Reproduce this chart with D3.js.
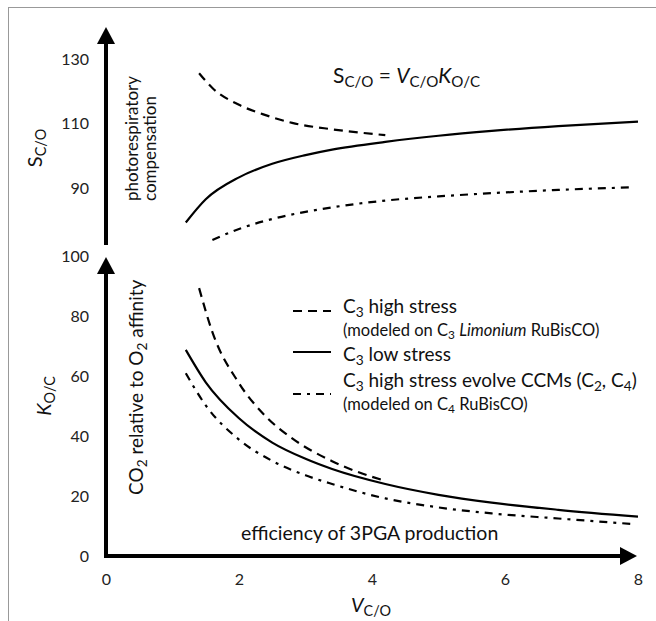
<!DOCTYPE html>
<meta charset="utf-8">
<style>
body { margin: 0; background: #fff; }
text {
  font-family: Lato, "Open Sans", sans-serif;
  fill: #111;
}
.tick text { font-size: 16px; fill: #222; }
</style>
<body>
<script src="https://cdn.jsdelivr.net/npm/d3@7"></script>
<script>
// values
var xTicks = [0, 2, 4, 6, 8];
var sTicks = [90, 110, 130];
var kTicks = [0, 20, 40, 60, 80, 100];

// C3 high stress (dashed)
var vHigh = [1.4, 1.6, 2.0, 2.4, 2.8, 3.4, 4.2];
var sHigh = [125.6, 121.0, 115.8, 112.6, 110.2, 108.2, 106.4];
var kHigh = [89.3, 74.6, 57.6, 46.6, 39.2, 31.6, 25.0];

// C3 low stress (solid)
var vLow = [1.2, 1.5, 2.0, 2.5, 3.0, 3.4, 4.2, 5.0, 5.8, 6.8, 8.0];
var sLow = [79.3, 86.5, 93.3, 97.5, 100.2, 101.9, 104.3, 106.2, 107.7, 109.2, 110.6];
var kLow = [68.7, 57.9, 45.9, 37.8, 32.4, 29.0, 24.0, 20.4, 17.8, 15.4, 13.1];

// C3 high stress evolve CCMs (dash-dot)
var vCcmS = [1.6, 2.0, 2.5, 3.0, 3.4, 4.2, 5.0, 5.8, 6.8, 7.9];
var sCcm = [73.9, 77.3, 80.4, 82.6, 84.0, 86.1, 87.4, 88.4, 89.4, 90.2];
var vCcmK = [1.2, 1.5, 2.0, 2.5, 3.0, 3.4, 4.2, 5.0, 5.8, 6.8, 7.9];
var kCcm = [60.9, 50.2, 38.8, 31.7, 26.9, 24.0, 19.2, 16.2, 14.2, 12.5, 10.7];

var width = 656, height = 621;

var svg = d3.select("body").append("svg")
    .attr("width", width)
    .attr("height", height);

// light frame round the figure
svg.append("rect")
    .attr("x", 8.5).attr("y", 7.5)
    .attr("width", 700).attr("height", 700)
    .attr("fill", "none")
    .attr("stroke", "#999")
    .attr("stroke-width", 1);

var x = d3.scaleLinear().domain([0, 8]).range([106, 638]);
var yS = d3.scaleLinear().domain([90, 130]).range([188, 59]);
var yK = d3.scaleLinear().domain([0, 100]).range([556, 256]);

var dashed = "9,6";
var dashDot = "8,6,3,6";

// ticks only, the axis lines are the thick arrows below
function cleanAxis(g) {
  g.select(".domain").remove();
  g.selectAll(".tick line").remove();
  g.selectAll("text").attr("font-family", null);
}

svg.append("g")
    .attr("transform", "translate(106,0)")
    .call(d3.axisLeft(yS).tickValues(sTicks).tickSize(0).tickPadding(17))
    .call(cleanAxis);

svg.append("g")
    .attr("transform", "translate(106,0)")
    .call(d3.axisLeft(yK).tickValues(kTicks).tickSize(0).tickPadding(17))
    .call(cleanAxis);

svg.append("g")
    .attr("transform", "translate(0,556)")
    .call(d3.axisBottom(x).tickValues(xTicks).tickSize(0).tickPadding(18))
    .call(cleanAxis);

// arrows
function arrow(x1, y1, x2, y2) {
  var ang = Math.atan2(y2 - y1, x2 - x1);
  var len = 17, half = 9;
  var bx = x2 - len * Math.cos(ang), by = y2 - len * Math.sin(ang);
  svg.append("line")
      .attr("x1", x1).attr("y1", y1)
      .attr("x2", bx).attr("y2", by)
      .attr("stroke", "#000")
      .attr("stroke-width", 4);
  svg.append("path")
      .attr("d", "M" + x2 + "," + y2 +
        "L" + (bx + half * Math.sin(ang)) + "," + (by - half * Math.cos(ang)) +
        "L" + (bx - half * Math.sin(ang)) + "," + (by + half * Math.cos(ang)) + "Z")
      .attr("fill", "#000");
}
arrow(x(0), 245, x(0), 27);
arrow(x(0), yK(0) + 2, x(0), 257);
arrow(x(0) - 2, yK(0), 637, yK(0));

// curves
function curve(vs, vals, y, dash) {
  var pts = vs.map(function(v, i) { return [v, vals[i]]; });
  var line = d3.line()
      .curve(d3.curveMonotoneX)
      .x(function(d) { return x(d[0]); })
      .y(function(d) { return y(d[1]); });
  svg.append("path")
      .datum(pts)
      .attr("d", line)
      .attr("fill", "none")
      .attr("stroke", "#000")
      .attr("stroke-width", 2.2)
      .attr("stroke-dasharray", dash);
}
curve(vHigh, sHigh, yS, dashed);
curve(vLow, sLow, yS, null);
curve(vCcmS, sCcm, yS, dashDot);
curve(vHigh, kHigh, yK, dashed);
curve(vLow, kLow, yK, null);
curve(vCcmK, kCcm, yK, dashDot);

// text with subscripts: parts = [[text, sub?, italic?], ...]
function rich(g, parts, size) {
  var t = g.append("text").attr("font-size", size);
  var down = false;
  parts.forEach(function(p) {
    var s = t.append("tspan").text(p[0]);
    if (p[1]) {
      s.attr("font-size", size * 0.72).attr("dy", down ? 0 : size * 0.2);
      down = true;
    } else if (down) {
      s.attr("dy", -size * 0.2);
      down = false;
    }
    if (p[2]) s.attr("font-style", "italic");
  });
  return t;
}

// equation
rich(svg.append("g").attr("transform", "translate(333,83)"),
    [["S"], ["C/O", 1], [" = "], ["V", 0, 1], ["C/O", 1], ["K", 0, 1], ["O/C", 1]], 21);

// axis titles
rich(svg.append("g").attr("transform", "translate(42,148) rotate(-90)"),
    [["S"], ["C/O", 1]], 20).attr("text-anchor", "middle");
rich(svg.append("g").attr("transform", "translate(51,396) rotate(-90)"),
    [["K", 0, 1], ["O/C", 1]], 20).attr("text-anchor", "middle");
rich(svg.append("g").attr("transform", "translate(371,612)"),
    [["V", 0, 1], ["C/O", 1]], 20).attr("text-anchor", "middle");

// descriptive labels along the arrows
svg.append("text")
    .attr("transform", "translate(138,201) rotate(-90)")
    .attr("font-size", 17)
    .text("photorespiratory");
svg.append("text")
    .attr("transform", "translate(156,201) rotate(-90)")
    .attr("font-size", 17)
    .text("compensation");
rich(svg.append("g").attr("transform", "translate(143,495) rotate(-90)"),
    [["CO"], ["2", 1], [" relative to O"], ["2", 1], [" affinity"]], 19);
svg.append("text")
    .attr("x", 241).attr("y", 540)
    .attr("font-size", 19.5)
    .text("efficiency of 3PGA production");

// legend
var legend = svg.append("g");
[[311, dashed], [352, null], [394, dashDot]].forEach(function(r) {
  legend.append("line")
      .attr("x1", 293).attr("x2", 331)
      .attr("y1", r[0]).attr("y2", r[0])
      .attr("stroke", "#000")
      .attr("stroke-width", 2.2)
      .attr("stroke-dasharray", r[1]);
});
rich(legend.append("g").attr("transform", "translate(343,313)"),
    [["C"], ["3", 1], [" high stress"]], 19);
rich(legend.append("g").attr("transform", "translate(343,336)"),
    [["(modeled on C"], ["3", 1], [" "], ["Limonium", 0, 1], [" RuBisCO)"]], 16.5);
rich(legend.append("g").attr("transform", "translate(343,361)"),
    [["C"], ["3", 1], [" low stress"]], 19);
rich(legend.append("g").attr("transform", "translate(343,387)"),
    [["C"], ["3", 1], [" high stress evolve CCMs (C"], ["2", 1], [", C"], ["4", 1], [")"]], 19);
rich(legend.append("g").attr("transform", "translate(343,410)"),
    [["(modeled on C"], ["4", 1], [" RuBisCO)"]], 16.5);
</script>
